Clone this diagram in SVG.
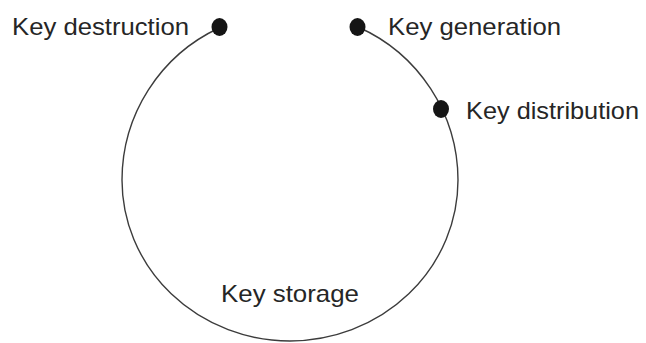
<svg xmlns="http://www.w3.org/2000/svg" width="646" height="343" viewBox="0 0 646 343">
  <style>
    .label { font-family: "Liberation Sans", Arial, sans-serif; font-size: 24px; fill: #262626; }
    .dot { fill: #151515; }
    .ring { fill: none; stroke: #3c3c3c; stroke-width: 1.4; }
  </style>
  <rect width="646" height="343" fill="#ffffff"/>

  <!-- lifecycle ring: destruction -> storage -> generation (open at the top) -->
  <g id="connectors">
    <path class="ring" d="M 219 28 A 168 168 0 0 0 122 180 A 168 161 0 0 0 458 180 A 168 168 0 0 0 358 27"/>
  </g>

  <g id="key-destruction">
    <ellipse class="dot" cx="219.5" cy="27" rx="8" ry="9"/>
    <text class="label" x="12" y="35" textLength="177" lengthAdjust="spacingAndGlyphs">Key destruction</text>
  </g>

  <g id="key-generation">
    <ellipse class="dot" cx="357.5" cy="27" rx="8" ry="9"/>
    <text class="label" x="388" y="35" textLength="173" lengthAdjust="spacingAndGlyphs">Key generation</text>
  </g>

  <g id="key-distribution">
    <ellipse class="dot" cx="441" cy="109" rx="8" ry="9"/>
    <text class="label" x="466" y="119" textLength="173" lengthAdjust="spacingAndGlyphs">Key distribution</text>
  </g>

  <g id="key-storage">
    <text class="label" x="221" y="302" textLength="138" lengthAdjust="spacingAndGlyphs">Key storage</text>
  </g>
</svg>
